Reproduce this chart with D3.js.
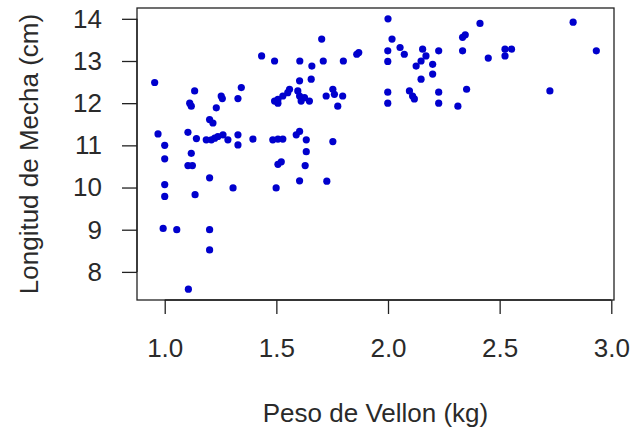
<!DOCTYPE html>
<html>
<head>
<meta charset="utf-8">
<script src="https://cdn.jsdelivr.net/npm/d3@7"></script>
<style>
  html, body { margin: 0; padding: 0; background: #fff; }
  svg { display: block; }
  text { font-family: "Liberation Sans", Arial, sans-serif; fill: #2a2a2a; }
</style>
</head>
<body>
<svg id="chart" width="635" height="434"></svg>
<script>
// Peso de Vellon (kg)
const pesoVellon = [
  0.955, 0.970, 1.000, 1.000, 1.000, 1.000, 0.993, 1.054, 1.104, 1.142,
  1.119, 1.104, 1.124, 1.136, 1.106, 1.201, 1.201, 1.201, 1.134, 1.112,
  1.119, 1.253, 1.258, 1.231, 1.343, 1.328, 1.201, 1.216, 1.186, 1.209,
  1.224, 1.238, 1.261, 1.283, 1.328, 1.328, 1.395, 1.306,
  1.434, 1.492, 1.499, 1.522, 1.507, 1.484, 1.507, 1.529, 1.589, 1.604,
  1.634, 1.753, 1.634, 1.629, 1.604, 1.726, 1.507, 1.492, 1.529, 1.551,
  1.559, 1.507, 1.596, 1.604, 1.611, 1.626, 1.648, 1.604, 1.656, 1.723,
  1.753, 1.760, 1.797, 1.775, 1.605, 1.659, 1.703, 1.710, 1.800, 1.860,
  1.869,
  2.000, 2.018, 1.999, 1.999, 2.054, 2.073, 2.155, 2.170, 2.148, 2.126,
  2.227, 2.200, 2.200, 2.148, 2.334, 2.346, 2.334, 2.352, 2.313, 2.227,
  2.227, 2.096, 2.110, 2.118, 1.999, 1.999, 2.412, 2.829, 2.933, 2.449,
  2.524, 2.553, 2.524, 2.725
];
// Longitud de Mecha (cm)
const longitudMecha = [
  12.49, 11.27, 11.00, 10.68, 10.07, 9.79, 9.03, 9.00, 11.31, 11.16,
  10.81, 10.52, 10.52, 9.83, 7.59, 9.00, 8.52, 10.23, 12.29, 12.00,
  11.93, 12.17, 12.11, 11.89, 12.37, 12.11, 11.61, 11.53, 11.13, 11.13,
  11.17, 11.21, 11.25, 11.13, 11.25, 11.01, 11.15, 9.99,
  13.12, 13.00, 9.99, 10.61, 10.55, 11.13, 11.15, 11.15, 11.25, 11.33,
  11.13, 11.09, 10.85, 10.52, 10.16, 10.15, 12.09, 12.05, 12.17, 12.25,
  12.33, 12.00, 12.29, 12.17, 12.05, 12.13, 12.05, 12.53, 12.57, 12.17,
  12.33, 12.21, 12.17, 11.93, 13.00, 12.88, 13.52, 13.00, 13.00, 13.16,
  13.20,
  14.00, 13.52, 13.24, 12.99, 13.32, 13.16, 13.28, 13.12, 13.00, 12.88,
  13.24, 12.92, 12.69, 12.57, 13.56, 13.62, 13.24, 12.33, 11.93, 12.26,
  12.00, 12.29, 12.17, 12.10, 12.26, 12.00, 13.89, 13.92, 13.24, 13.07,
  13.28, 13.28, 13.12, 12.29
];
const xTicks = [1.0, 1.5, 2.0, 2.5, 3.0];
const yTicks = [8, 9, 10, 11, 12, 13, 14];
const xTitle = "Peso de Vellon (kg)";
const yTitle = "Longitud de Mecha (cm)";

const box = { left: 137, right: 614, top: 8, bottom: 300 };

// R-style 4% domain extension
const xmin = d3.min(pesoVellon), xmax = d3.max(pesoVellon);
const ymin = d3.min(longitudMecha), ymax = d3.max(longitudMecha);
const xe = (xmax - xmin) * 0.04, ye = (ymax - ymin) * 0.04;

const x = d3.scaleLinear().domain([xmin - xe, xmax + xe]).range([box.left, box.right]);
const y = d3.scaleLinear().domain([ymin - ye, ymax + ye]).range([box.bottom, box.top]);

const svg = d3.select("#chart");

// points
svg.append("g").selectAll("circle")
  .data(pesoVellon.map((v, i) => [v, longitudMecha[i]]))
  .join("circle")
  .attr("cx", d => x(d[0]))
  .attr("cy", d => y(d[1]))
  .attr("r", 3.6)
  .attr("fill", "#0000cd");

// box
svg.append("rect")
  .attr("x", box.left).attr("y", box.top)
  .attr("width", box.right - box.left).attr("height", box.bottom - box.top)
  .attr("fill", "none").attr("stroke", "#222").attr("stroke-width", 1.3);

// x axis
const xAxis = d3.axisBottom(x).tickValues(xTicks).tickFormat(d3.format(".1f"))
  .tickSizeInner(14).tickSizeOuter(0).tickPadding(25);
const gx = svg.append("g").attr("transform", `translate(0,${box.bottom})`).call(xAxis);
gx.select(".domain").attr("d", `M${x(xTicks[0])},0H${x(xTicks[xTicks.length-1])}`).attr("stroke", "#222").attr("stroke-width", 1.3);
gx.selectAll(".tick line").attr("stroke", "#222").attr("stroke-width", 1.3);
gx.selectAll(".tick text").attr("font-size", 26).attr("font-family", "Liberation Sans, Arial, sans-serif").attr("fill", "#2a2a2a");

// y axis
const yAxis = d3.axisLeft(y).tickValues(yTicks).tickFormat(d3.format("d"))
  .tickSizeInner(15).tickSizeOuter(0).tickPadding(20);
const gy = svg.append("g").attr("transform", `translate(${box.left},0)`).call(yAxis);
gy.select(".domain").attr("d", `M0,${y(yTicks[0])}V${y(yTicks[yTicks.length-1])}`).attr("stroke", "#222").attr("stroke-width", 1.3);
gy.selectAll(".tick line").attr("stroke", "#222").attr("stroke-width", 1.3);
gy.selectAll(".tick text").attr("font-size", 26).attr("font-family", "Liberation Sans, Arial, sans-serif").attr("fill", "#2a2a2a");

// titles
svg.append("text")
  .attr("x", (box.left + box.right) / 2).attr("y", 422)
  .attr("text-anchor", "middle").attr("font-size", 26)
  .text(xTitle);

svg.append("text")
  .attr("transform", `translate(38,${(box.top + box.bottom) / 2}) rotate(-90)`)
  .attr("text-anchor", "middle").attr("font-size", 26)
  .text(yTitle);
</script>
</body>
</html>
